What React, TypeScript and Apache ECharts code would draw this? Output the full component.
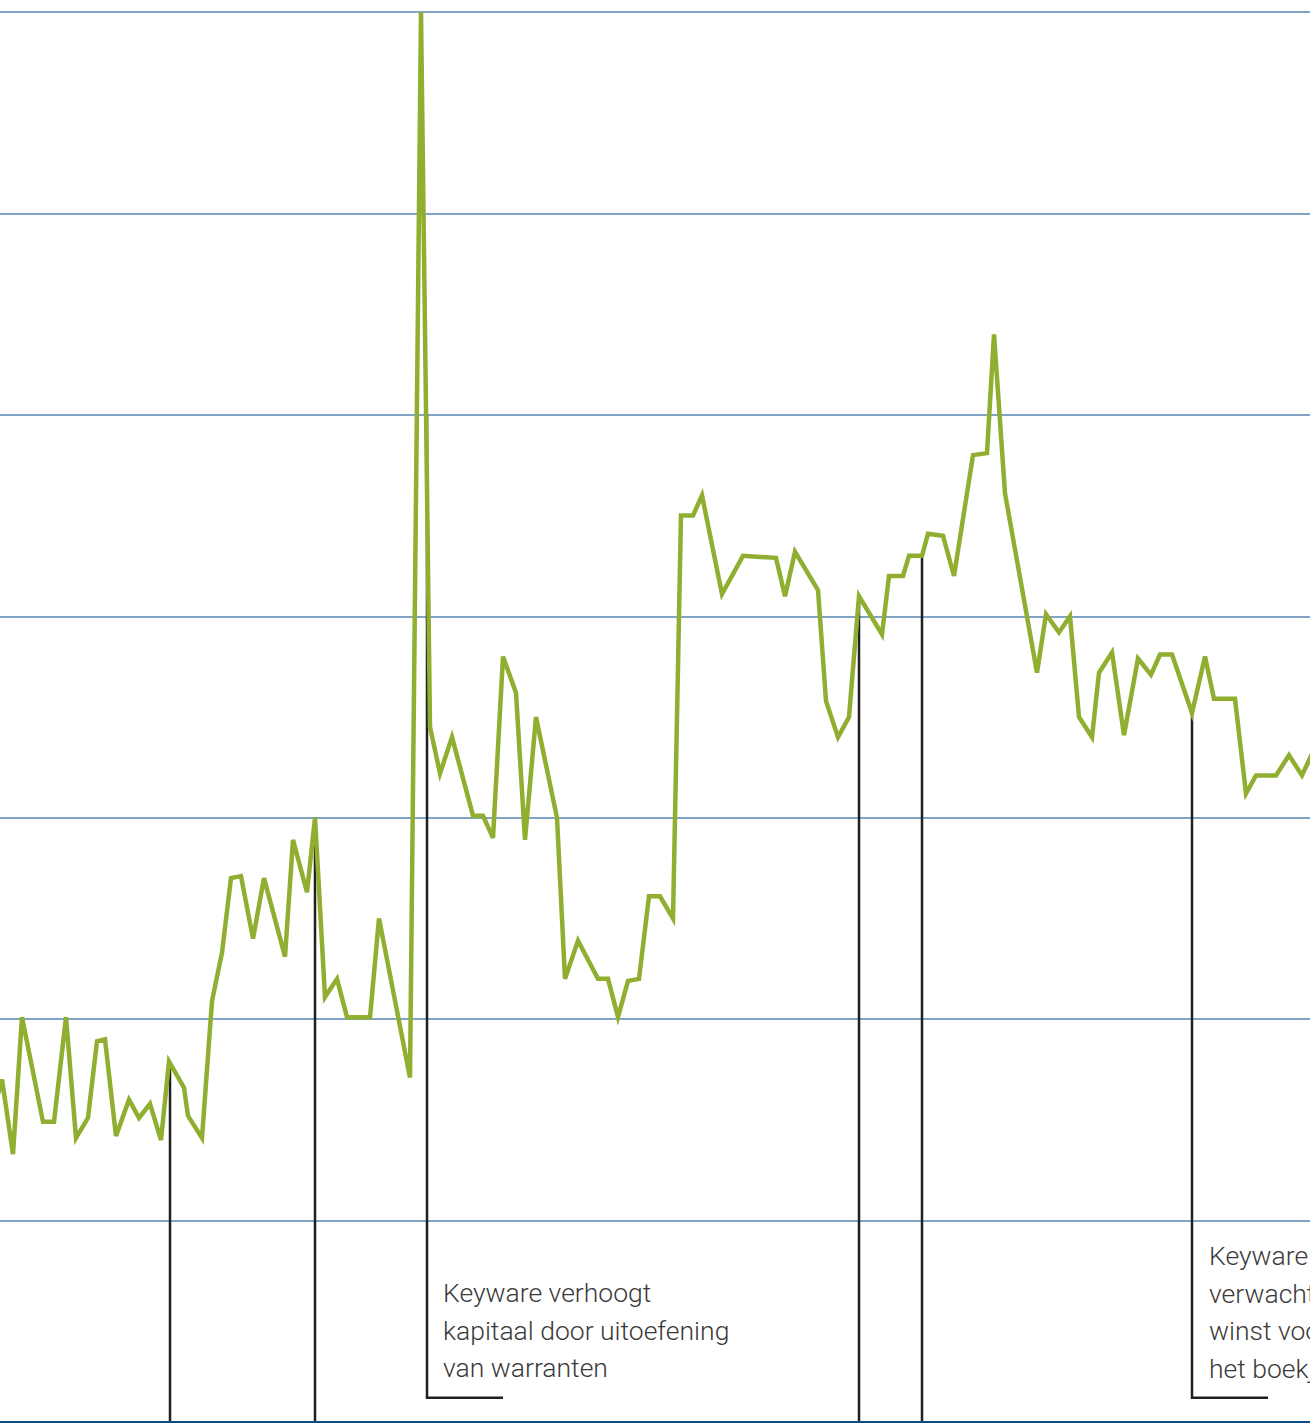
import React, { useEffect, useRef } from "react";
import * as echarts from "echarts";

// x: day index from start of period, y: price level (gridline units)
const days = [
  -8, 2, 13, 22, 43, 54, 66, 76, 88, 97, 105, 116, 129, 139, 150, 161, 169, 184, 188, 202,
  212, 222, 231, 241, 253, 264, 285, 293, 307, 315, 325, 337, 347, 370, 379, 410, 421, 430, 440, 452,
  473, 483, 493, 503, 516, 525, 536, 557, 565, 578, 598, 608, 618, 628, 639, 649, 660, 673, 681, 693,
  702, 722, 743, 776, 785, 795, 818, 826, 838, 849, 859, 882, 889, 903, 909, 922, 928, 943, 954, 973,
  987, 994, 1005, 1037, 1046, 1059, 1070, 1079, 1092, 1099, 1112, 1124, 1138, 1151, 1160, 1172, 1192, 1205, 1214, 1235,
  1246, 1256, 1276, 1289, 1302, 1316,
];
const prices = [
  1.52, 1.70, 1.33, 2.01, 1.49, 1.49, 2.01, 1.41, 1.51, 1.89, 1.90, 1.42, 1.60, 1.51, 1.58, 1.40, 1.79, 1.66, 1.52, 1.41,
  2.09, 2.33, 2.70, 2.71, 2.40, 2.70, 2.31, 2.89, 2.63, 3.00, 2.11, 2.20, 2.01, 2.01, 2.50, 1.71, 7.00, 3.45, 3.22, 3.40,
  3.01, 3.01, 2.90, 3.80, 3.62, 2.89, 3.50, 3.00, 2.20, 2.39, 2.20, 2.20, 2.01, 2.19, 2.20, 2.61, 2.61, 2.50, 4.50, 4.50,
  4.60, 4.11, 4.30, 4.29, 4.10, 4.32, 4.13, 3.58, 3.40, 3.50, 4.10, 3.91, 4.20, 4.20, 4.30, 4.30, 4.41, 4.40, 4.20, 4.80,
  4.81, 5.40, 4.61, 3.72, 4.01, 3.92, 4.00, 3.50, 3.40, 3.72, 3.82, 3.41, 3.79, 3.71, 3.81, 3.81, 3.52, 3.80, 3.59, 3.59,
  3.12, 3.21, 3.21, 3.31, 3.21, 3.36,
];

// event markers
const eventDays = [170, 315, 427, 859, 922, 1192];
const eventTops = [1.79, 3.0, 5.0, 4.1, 4.3, 3.52];
const eventBottoms = [0, 0, 0.12, 0, 0, 0.12];
const eventTailEnds = [null, null, 503, null, null, 1268];

const labelA = ["Keyware verhoogt", "kapitaal door uitoefening", "van warranten"];
const labelB = ["Keyware", "verwacht", "winst voor", "het boekjaar"];

const GREEN = "#90ae2f";
const GRID = "#80a4c7";
const AXIS = "#0b4c86";
const INK = "#231f20";
const TEXT = "#3a3a3a";

export default function App() {
  const ref = useRef<HTMLDivElement>(null);
  useEffect(() => {
    if (!ref.current) return;
    const chart = echarts.init(ref.current, undefined, { renderer: "svg" });
    const eventSeries = eventDays.map((d, i) => {
      const pts: number[][] = [
        [d, eventTops[i]],
        [d, eventBottoms[i]],
      ];
      const tail = eventTailEnds[i];
      if (tail != null) pts.push([tail, eventBottoms[i]]);
      return {
        type: "line",
        data: pts,
        symbol: "none",
        z: 1,
        clip: false,
        lineStyle: { color: INK, width: 2.5, join: "miter" },
        silent: true,
      };
    });
    const textStyle = {
      fill: TEXT,
      fontFamily: "Roboto",
      fontWeight: 300,
      fontSize: 26.5,
    };
    const graphics: any[] = [];
    labelA.forEach((t, i) => {
      graphics.push({
        type: "text",
        left: 443,
        top: 1279 + i * 37.5,
        style: { ...textStyle, text: t },
      });
    });
    labelB.forEach((t, i) => {
      graphics.push({
        type: "text",
        left: 1209,
        top: 1242 + i * 37.5,
        style: { ...textStyle, text: t },
      });
    });
    chart.setOption({
      animation: false,
      backgroundColor: "#ffffff",
      grid: { left: 0, right: 0, top: 12, height: 1410, containLabel: false },
      xAxis: {
        type: "value",
        min: 0,
        max: 1310,
        axisLine: { show: true, onZero: true, lineStyle: { color: AXIS, width: 3 } },
        axisTick: { show: false },
        axisLabel: { show: false },
        splitLine: { show: false },
        z: 5,
      },
      yAxis: {
        type: "value",
        min: 0,
        max: 7,
        interval: 1,
        axisLine: { show: false },
        axisTick: { show: false },
        axisLabel: { show: false },
        splitLine: { show: true, lineStyle: { color: GRID, width: 2 } },
      },
      series: [
        ...eventSeries,
        {
          type: "line",
          data: days.map((d, i) => [d, prices[i]]),
          symbol: "none",
          z: 3,
          clip: true,
          lineStyle: { color: GREEN, width: 4.5, join: "miter", miterLimit: 4 },
        },
      ],
      graphic: graphics,
    });
    return () => chart.dispose();
  }, []);
  return (
    <div
      ref={ref}
      style={{ position: "absolute", left: 0, top: 0, width: 1310, height: 1423 }}
    />
  );
}
